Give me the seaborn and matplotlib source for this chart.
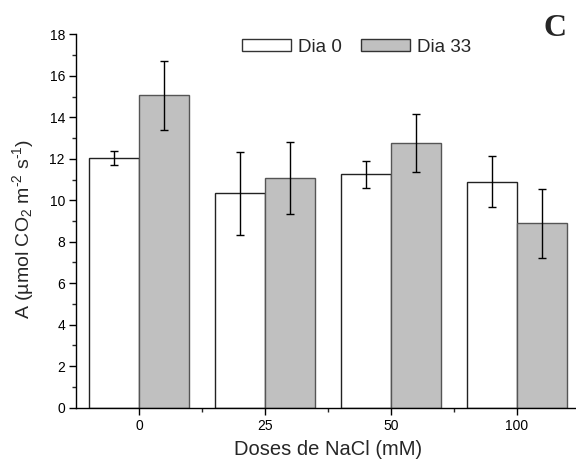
import matplotlib
matplotlib.use("Agg")
import matplotlib.pyplot as plt
from matplotlib.ticker import MultipleLocator, FixedLocator
import seaborn as sns
import pandas as pd
import numpy as np

doses = ["0", "25", "50", "100"]
dia0 = [12.05, 10.33, 11.25, 10.90]
dia0_err = [0.33, 2.00, 0.66, 1.24]
dia33 = [15.05, 11.07, 12.76, 8.88]
dia33_err = [1.67, 1.73, 1.42, 1.66]
series = ["Dia 0", "Dia 33"]

df = pd.DataFrame({
    "dose": doses * 2,
    "A": dia0 + dia33,
    "err": dia0_err + dia33_err,
    "serie": [series[0]] * 4 + [series[1]] * 4,
})

sns.set_style("ticks")
plt.rcParams["font.family"] = ["Liberation Sans", "DejaVu Sans"]
plt.rcParams["mathtext.fontset"] = "custom"
plt.rcParams["mathtext.rm"] = "Liberation Sans"
plt.rcParams["mathtext.it"] = "Liberation Sans:italic"

fig = plt.figure(figsize=(5.76, 4.65), dpi=100)
ax = fig.add_axes([76 / 576, 57.3 / 465, 504 / 576, 373.4 / 465])

sns.barplot(data=df, x="dose", y="A", hue="serie", order=doses,
            hue_order=series, palette=["white", "#C0C0C0"], width=0.8,
            errorbar=None, edgecolor="black", linewidth=1.0, ax=ax,
            legend=True)

errs = [dia0_err, dia33_err]
edgecols = ["#222222", "#555555"]
bar_conts = list(ax.containers)[:2]
for k, cont in enumerate(bar_conts):
    patches = [p for p in cont if p is not None]
    xs = [p.get_x() + p.get_width() / 2 for p in patches]
    hs = [p.get_height() for p in patches]
    for p in patches:
        p.set_edgecolor(edgecols[k])
    ax.errorbar(xs, hs, yerr=errs[k], fmt="none", ecolor="black",
                elinewidth=1.0, capsize=3, capthick=1.0, zorder=5)

ax.set_xlim(-0.5, 3.5)
ax.set_ylim(0, 18)
ax.yaxis.set_major_locator(MultipleLocator(2))
ax.yaxis.set_minor_locator(MultipleLocator(1))
ax.xaxis.set_minor_locator(FixedLocator([0.5, 1.5, 2.5]))
ax.tick_params(axis="both", which="major", direction="out", length=5,
               width=1, labelsize=10, colors="black", pad=3)
ax.tick_params(axis="both", which="minor", direction="out", length=3,
               width=1)
for s in ["top", "right"]:
    ax.spines[s].set_visible(False)
for s in ["left", "bottom"]:
    ax.spines[s].set_linewidth(1.0)
    ax.spines[s].set_color("black")

ax.set_xlabel("Doses de NaCl (mM)", fontsize=14.5, labelpad=5)
ax.set_ylabel("A (µmol CO$_2$ m$^{\u20102}$ s$^{\u20101}$)", fontsize=14)
ax.yaxis.set_label_coords(-0.079, 0.479)

leg = ax.legend(loc="center left", bbox_to_anchor=(242 / 576, 1 - 47 / 465),
                bbox_transform=fig.transFigure, ncol=2, frameon=False,
                fontsize=13.5, handlelength=2.6, handleheight=0.65,
                handletextpad=0.4, columnspacing=1.0, borderpad=0,
                borderaxespad=0)
for h in leg.legend_handles:
    h.set_edgecolor("#333333")
    h.set_linewidth(1.0)

fig.text(555 / 576, 1 - 28 / 465, "C", fontsize=23, fontweight="bold",
         family="Liberation Serif", ha="center", va="center")

fig.savefig("out.png", dpi=100)
